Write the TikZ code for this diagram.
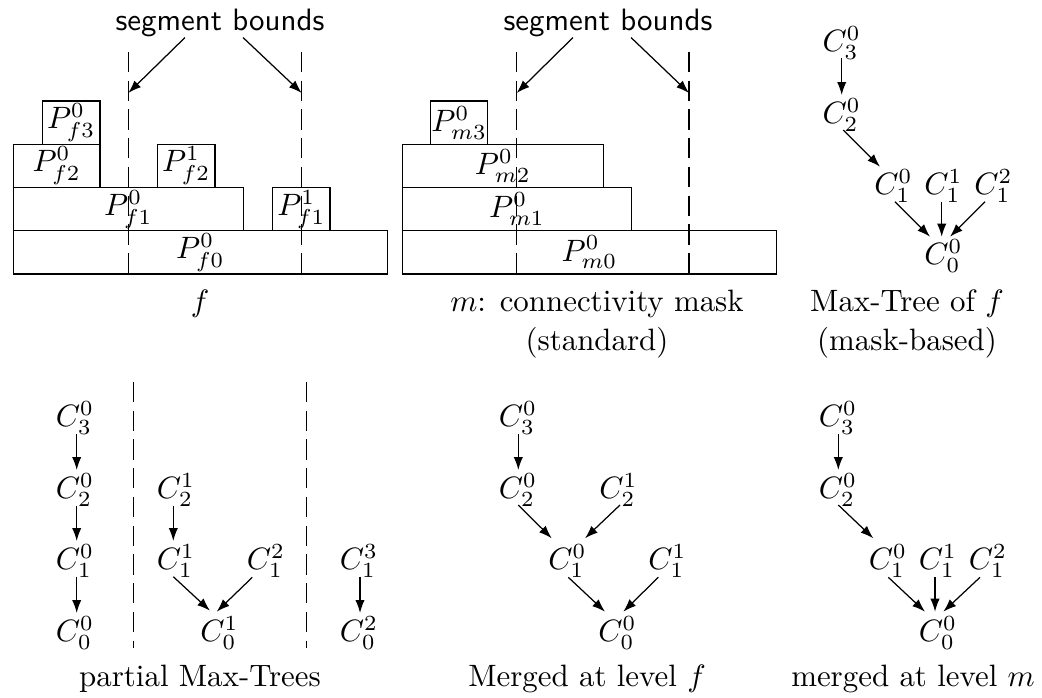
\documentclass[tikz,border=0pt]{standalone}
\usepackage{amsmath}
\usepackage{tikz}
\usetikzlibrary{calc}
\usetikzlibrary{arrows.meta}

\begin{document}
\begin{tikzpicture}[
		%Global config
		>={Latex[length=4.2pt,width=3pt]},
		x=0.3236pt, y=-0.3236pt,
		%Styles
		Part/.style 2 args={
			draw,
			inner sep=0pt,
			minimum width=#1*0.3236pt,
			minimum height=#2*0.3236pt,
		},
		Comp/.style={inner sep=0pt},
		Bound/.style={dash pattern=on 6.5pt off 2.8pt},
		Bounds/.style={font=\sffamily, inner sep=0pt},
		Caption/.style={anchor=base}
		]
		\useasboundingbox (0,0) rectangle (1042,697);

		% image f
		\node[Part={374}{43.2}] (pf0) at (200.3,252.4) {$P^0_{f0}$};
		\node[Part={230}{43.3}] (pf10) at (128.3,209.2) {$P^0_{f1}$};
		\node[Part={57.3}{43.3}] (pf11) at (301.4,209.2) {$P^1_{f1}$};
		\node[Part={86.7}{43.3}] (pf20) at (56.7,165.9) {$P^0_{f2}$};
		\node[Part={57.7}{43.3}] (pf21) at (186.2,165.9) {$P^1_{f2}$};
		\node[Part={57.7}{43.2}] (pf30) at (71.2,122.6) {$P^0_{f3}$};

		% mask m
		\node[Part={374.4}{43.2}] (pm0) at (589.5,252.4) {$P^0_{m0}$};
		\node[Part={229.4}{43.3}] (pm1) at (517,209.2) {$P^0_{m1}$};
		\node[Part={201}{43.3}] (pm2) at (502.8,165.9) {$P^0_{m2}$};
		\node[Part={57}{43.2}] (pm3) at (459.2,122.6) {$P^0_{m3}$};

		% segment bounds
		\foreach \bx/\bn in {128.3/fb1, 301.7/fb2, 516.7/mb1, 689/mb2}{
			\coordinate (\bn) at (\bx,93);
			\draw[Bound] (\bx,52) -- (\bx,274);
		}
		\node[Bounds] (sbf) at (220,23) {segment bounds};
		\node[Bounds] (sbm) at (608,23) {segment bounds};
		\draw[->] ($(sbf.south)+(-35,0)$) -- (fb1);
		\draw[->] ($(sbf.south)+(23,0)$) -- (fb2);
		\draw[->] ($(sbm.south)+(-35,0)$) -- (mb1);
		\draw[->] ($(sbm.south)+(23,0)$) -- (mb2);

		\node[Caption] (capf) at (200,311.5) {$f$};
		\node[Caption] (capm) at (597,311.5) {$m$: connectivity mask};
		\node[Caption] (capms) at (597,350) {(standard)};

		% max-tree of f
		\node[Comp] (t3) at (841.7,43) {$C^0_3$};
		\node[Comp] (t2) at (841.7,115) {$C^0_2$};
		\node[Comp] (t10) at (893.5,186) {$C^0_1$};
		\node[Comp] (t11) at (943.5,186) {$C^1_1$};
		\node[Comp] (t12) at (993.5,186) {$C^2_1$};
		\node[Comp] (t00) at (943.5,256) {$C^0_0$};
		\draw[->] ([shift={(0,15)}]t3.center) -- ([shift={(0,-20)}]t2.center);
		\draw[->] ([shift={(1.6,15)}]t2.center) -- ([shift={(-13.5,-19.3)}]t10.center);
		\draw[->] ([shift={(1.5,15.7)}]t10.center) -- ([shift={(-13.5,-19.3)}]t00.center);
		\draw[->] ([shift={(-1.8,15.7)}]t11.center) -- ([shift={(-1.8,-19.3)}]t00.center);
		\draw[->] ([shift={(-8.5,15.7)}]t12.center) -- ([shift={(6.5,-19.3)}]t00.center);
		\node[Caption] (capt) at (907,311.5) {Max-Tree of $f$};
		\node[Caption] (capts) at (907,350) {(mask-based)};

		% partial trees
		\draw[Bound] (133.3,382) -- (133.3,648);
		\draw[Bound] (306.7,382) -- (306.7,648);
		\node[Comp] (a3) at (75,418) {$C^0_3$};
		\node[Comp] (a2) at (75,490) {$C^0_2$};
		\node[Comp] (a1) at (75,561) {$C^0_1$};
		\node[Comp] (a0) at (75,633) {$C^0_0$};
		\draw[->] ([shift={(1.7,15.5)}]a3.center) -- ([shift={(1.7,-20)}]a2.center);
		\draw[->] ([shift={(1.7,15.5)}]a2.center) -- ([shift={(1.7,-20)}]a1.center);
		\draw[->] ([shift={(1.7,15.5)}]a1.center) -- ([shift={(1.7,-20)}]a0.center);
		\node[Comp] (b2) at (176,490) {$C^1_2$};
		\node[Comp] (b11) at (176,561) {$C^1_1$};
		\node[Comp] (b12) at (266,561) {$C^2_1$};
		\node[Comp] (b0) at (219.5,633) {$C^1_0$};
		\draw[->] ([shift={(-2.7,15.5)}]b2.center) -- ([shift={(-2.7,-20)}]b11.center);
		\draw[->] ([shift={(-2.7,15.7)}]b11.center) -- ([shift={(-9.5,-22.3)}]b0.center);
		\draw[->] ([shift={(-13.7,16.3)}]b12.center) -- ([shift={(-2.8,-21.3)}]b0.center);
		\node[Comp] (c1) at (359,561) {$C^3_1$};
		\node[Comp] (c0) at (359,633) {$C^2_0$};
		\draw[->] ([shift={(1,15.5)}]c1.center) -- ([shift={(1,-20)}]c0.center);
		\node[Caption] (capp) at (200,686.5) {partial Max-Trees};

		% merged at level f
		\node[Comp] (m3) at (518,418) {$C^0_3$};
		\node[Comp] (m20) at (518,490) {$C^0_2$};
		\node[Comp] (m21) at (618.5,490) {$C^1_2$};
		\node[Comp] (m10) at (567.5,561) {$C^0_1$};
		\node[Comp] (m11) at (667.5,561) {$C^1_1$};
		\node[Comp] (m00) at (617.5,633) {$C^0_0$};
		\draw[->] ([shift={(0.3,15.5)}]m3.center) -- ([shift={(0.3,-20)}]m20.center);
		\draw[->] ([shift={(0.3,15)}]m20.center) -- ([shift={(-15.8,-22.7)}]m10.center);
		\draw[->] ([shift={(1.5,15)}]m21.center) -- ([shift={(17.5,-22.7)}]m10.center);
		\draw[->] ([shift={(0.8,16.3)}]m10.center) -- ([shift={(-12.5,-21.3)}]m00.center);
		\draw[->] ([shift={(-9.2,16.3)}]m11.center) -- ([shift={(5.8,-21.3)}]m00.center);
		\node[Caption] (capmf) at (587,686.5) {Merged at level $f$};

		% merged at level m
		\node[Comp] (r3) at (838,418) {$C^0_3$};
		\node[Comp] (r2) at (838,490) {$C^0_2$};
		\node[Comp] (r10) at (888,561) {$C^0_1$};
		\node[Comp] (r11) at (938,561) {$C^1_1$};
		\node[Comp] (r12) at (988,561) {$C^2_1$};
		\node[Comp] (r00) at (938,633) {$C^0_0$};
		\draw[->] ([shift={(0.3,15.5)}]r3.center) -- ([shift={(0.3,-20)}]r2.center);
		\draw[->] ([shift={(0.3,15)}]r2.center) -- ([shift={(-14.7,-22.7)}]r10.center);
		\draw[->] ([shift={(0.3,16.3)}]r10.center) -- ([shift={(-13,-21.3)}]r00.center);
		\draw[->] ([shift={(-3,16.3)}]r11.center) -- ([shift={(-3,-21.3)}]r00.center);
		\draw[->] ([shift={(-8,16.3)}]r12.center) -- ([shift={(5.3,-21.3)}]r00.center);
		\node[Caption] (capmm) at (913,686.5) {merged at level $m$};
	\end{tikzpicture}
\end{document}
